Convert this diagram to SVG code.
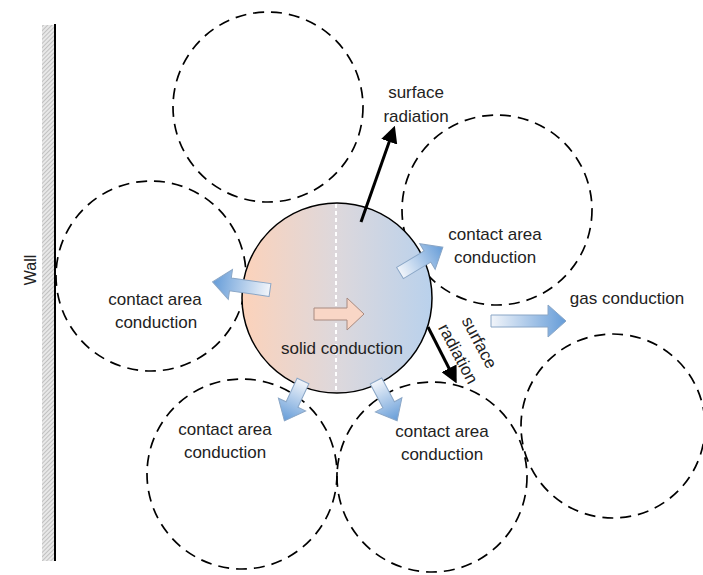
<svg xmlns="http://www.w3.org/2000/svg" width="703" height="575" viewBox="0 0 703 575">
<defs>
<style>
.dc{fill:none;stroke:#000;stroke-width:1.7;stroke-dasharray:11 7}
.lbl{font-family:"Liberation Sans",Arial,sans-serif;font-size:17px;fill:#222;text-anchor:middle}
.ca{fill:url(#gBlue);stroke:#8aa6c6;stroke-width:1}
.rad{stroke:#000;stroke-width:3;fill:none;marker-end:url(#ah)}
</style>
<pattern id="hatch" width="3" height="3" patternUnits="userSpaceOnUse" patternTransform="rotate(45)">
<rect width="3" height="3" fill="#e8e8e8"/>
<line x1="0" y1="0" x2="0" y2="3" stroke="#9a9a9a" stroke-width="1"/>
</pattern>
<linearGradient id="gCore" x1="0" y1="0" x2="1" y2="0">
<stop offset="0" stop-color="#fcd2ba"/>
<stop offset="0.5" stop-color="#ddd8dc"/>
<stop offset="1" stop-color="#b9d1ec"/>
</linearGradient>
<linearGradient id="gBlue" x1="0" y1="0" x2="1" y2="0">
<stop offset="0" stop-color="#f2f5fa"/>
<stop offset="1" stop-color="#659cd8"/>
</linearGradient>
<marker id="ah" viewBox="0 0 10 10" refX="3" refY="5" markerWidth="17" markerHeight="17" markerUnits="userSpaceOnUse" orient="auto">
<path d="M0,0 L10,5 L0,10 Z" fill="#000"/>
</marker>
</defs>
<rect width="703" height="575" fill="#fff"/>

<g id="wall">
<rect x="42" y="25" width="12" height="536" fill="url(#hatch)"/>
<line x1="55" y1="24" x2="55" y2="561" stroke="#000" stroke-width="2"/>
<text class="lbl" style="font-size:16px" transform="translate(36,270) rotate(-90)">Wall</text>
</g>

<g id="particle-top"><circle class="dc" cx="268" cy="107" r="95"/></g>
<g id="particle-upper-right"><circle class="dc" cx="497" cy="210" r="95"/>
<text class="lbl" x="495" y="240">contact area</text><text class="lbl" x="495" y="263">conduction</text></g>
<g id="particle-left"><circle class="dc" cx="151" cy="276" r="95"/>
<text class="lbl" x="155" y="305">contact area</text><text class="lbl" x="156" y="328">conduction</text></g>
<g id="particle-bottom-left"><circle class="dc" cx="242" cy="474" r="95"/>
<text class="lbl" x="225" y="435">contact area</text><text class="lbl" x="225" y="458">conduction</text></g>
<g id="particle-bottom-mid"><circle class="dc" cx="432" cy="477" r="95"/>
<text class="lbl" x="442" y="437">contact area</text><text class="lbl" x="442" y="460">conduction</text></g>
<g id="particle-right"><circle class="dc" cx="613" cy="426" r="92"/></g>

<g id="particle-center">
<circle cx="337" cy="298" r="95" fill="url(#gCore)" stroke="#000" stroke-width="1.5"/>
<line x1="336" y1="204" x2="336" y2="392" stroke="#fff" stroke-width="2" stroke-dasharray="4 3"/>
<text class="lbl" x="342" y="354">solid conduction</text>
</g>

<g id="connectors">
<path d="M314,308 H347 V298 L364,314 L347,330 V320 H314 Z" fill="#f9d6c6" stroke="#a88a80" stroke-width="1"/>
<path class="ca" d="M0,-6.5 H40 V-15 L58,0 L40,15 V6.5 H0 Z" transform="translate(270,290) rotate(-172)"/>
<path class="ca" d="M0,-6.5 H32 V-15 L50,0 L32,15 V6.5 H0 Z" transform="translate(400,273) rotate(-31)"/>
<path class="ca" d="M0,-6.5 H26 V-15 L44,0 L26,15 V6.5 H0 Z" transform="translate(303,381) rotate(115)"/>
<path class="ca" d="M0,-6.5 H27 V-15 L45,0 L27,15 V6.5 H0 Z" transform="translate(376,381) rotate(62)"/>
<path class="ca" d="M491,315 H548 V305 L566,321 L548,337 V327 H491 Z"/>
<line class="rad" x1="361" y1="222" x2="390.9" y2="136.9"/>
<line class="rad" x1="428" y1="327" x2="451.3" y2="372.8"/>
</g>

<g id="labels">
<text class="lbl" x="416" y="98">surface</text>
<text class="lbl" x="416" y="122">radiation</text>
<text class="lbl" x="627" y="304">gas conduction</text>
<g transform="translate(469,348) rotate(62)">
<text class="lbl" x="0" y="-6">surface</text>
<text class="lbl" x="0" y="18">radiation</text>
</g>
</g>
</svg>
